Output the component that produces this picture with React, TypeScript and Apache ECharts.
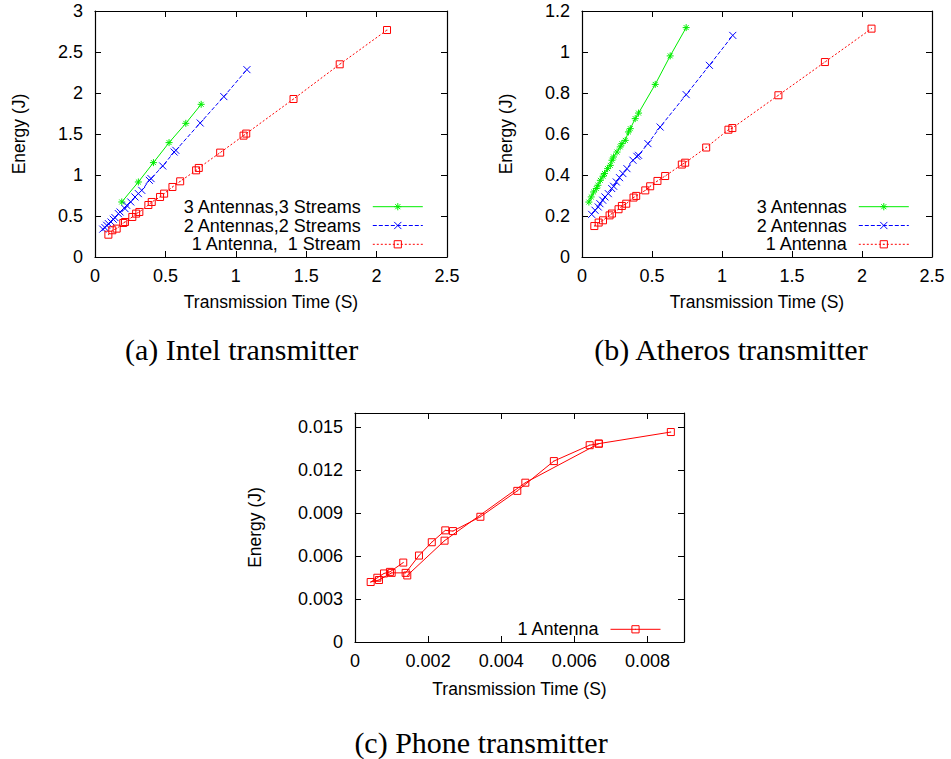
import React, { useEffect, useRef } from 'react';
import * as echarts from 'echarts';

// ---- (a) Intel transmitter ----
const intel3Time = [0.19, 0.308, 0.415, 0.526, 0.645, 0.754];
const intel3Energy = [0.671, 0.915, 1.151, 1.395, 1.63, 1.862];

const intel2Time = [0.055, 0.071, 0.083, 0.095, 0.114, 0.13, 0.142, 0.166, 0.178, 0.213, 0.225, 0.254, 0.284, 0.308, 0.332, 0.386, 0.398, 0.481, 0.562, 0.574, 0.747, 0.915, 1.079];
const intel2Energy = [0.34, 0.358, 0.387, 0.407, 0.427, 0.46, 0.48, 0.529, 0.549, 0.59, 0.63, 0.671, 0.732, 0.773, 0.813, 0.935, 0.956, 1.11, 1.28, 1.301, 1.634, 1.956, 2.285];

const intel1Time = [0.095, 0.123, 0.154, 0.201, 0.213, 0.265, 0.292, 0.315, 0.379, 0.403, 0.462, 0.491, 0.55, 0.605, 0.718, 0.737, 0.889, 1.055, 1.074, 1.41, 1.738, 2.074];
const intel1Energy = [0.272, 0.326, 0.346, 0.415, 0.427, 0.488, 0.529, 0.549, 0.634, 0.671, 0.732, 0.773, 0.854, 0.923, 1.057, 1.086, 1.273, 1.48, 1.505, 1.927, 2.35, 2.768];

// ---- (b) Atheros transmitter ----
const atheros3Time = [0.049, 0.066, 0.083, 0.102, 0.114, 0.131, 0.15, 0.161, 0.183, 0.202, 0.214, 0.225, 0.25, 0.273, 0.285, 0.309, 0.332, 0.345, 0.38, 0.404, 0.523, 0.63, 0.744];
const atheros3Energy = [0.268, 0.293, 0.317, 0.334, 0.35, 0.374, 0.394, 0.407, 0.431, 0.447, 0.472, 0.488, 0.512, 0.537, 0.553, 0.569, 0.61, 0.626, 0.675, 0.702, 0.842, 0.981, 1.119];

const atheros2Time = [0.069, 0.093, 0.116, 0.128, 0.148, 0.164, 0.188, 0.212, 0.226, 0.245, 0.268, 0.292, 0.321, 0.364, 0.392, 0.404, 0.471, 0.558, 0.744, 0.91, 1.077];
const atheros2Energy = [0.208, 0.228, 0.244, 0.26, 0.277, 0.293, 0.309, 0.334, 0.345, 0.366, 0.387, 0.407, 0.431, 0.472, 0.491, 0.496, 0.553, 0.634, 0.792, 0.935, 1.081];

const atheros1Time = [0.088, 0.119, 0.15, 0.197, 0.214, 0.261, 0.285, 0.316, 0.368, 0.387, 0.452, 0.487, 0.539, 0.594, 0.713, 0.737, 0.887, 1.046, 1.074, 1.403, 1.735, 2.068];
const atheros1Energy = [0.151, 0.168, 0.179, 0.203, 0.212, 0.233, 0.249, 0.26, 0.29, 0.298, 0.325, 0.345, 0.371, 0.395, 0.451, 0.46, 0.534, 0.621, 0.629, 0.789, 0.951, 1.114];

// ---- (c) Phone transmitter: one trace that doubles back, drawn as two runs ----
const phoneTimeRunA = [0.00132, 0.000956, 0.000793, 0.000611, 0.000429, 0.000656, 0.001003, 0.001385, 0.00175, 0.0021, 0.00247, 0.00268, 0.00343, 0.00444, 0.00544, 0.00642, 0.00667, 0.00864];
const phoneEnergyRunA = [0.00555, 0.0049, 0.00479, 0.00449, 0.00419, 0.00433, 0.00483, 0.00483, 0.00604, 0.00697, 0.0078, 0.00775, 0.00875, 0.01056, 0.01264, 0.01375, 0.01386, 0.01467];
const phoneTimeRunB = [0.00143, 0.00245, 0.00466, 0.00667];
const phoneEnergyRunB = [0.00465, 0.00708, 0.01113, 0.01386];

// ---- tick values ----
const timeTicksAB = [0, 0.5, 1, 1.5, 2, 2.5];
const intelEnergyTicks = [0, 0.5, 1, 1.5, 2, 2.5, 3];
const atherosEnergyTicks = [0, 0.2, 0.4, 0.6, 0.8, 1, 1.2];
const phoneTimeTicks = [0, 0.002, 0.004, 0.006, 0.008];
const phoneEnergyTicks = [0, 0.003, 0.006, 0.009, 0.012, 0.015];

const SANS = '"Liberation Sans", Arial, Helvetica, sans-serif';
const SERIF = '"Liberation Serif", "Times New Roman", serif';

const GREEN = '#00ee00';
const BLUE = '#0000ff';
const RED = '#ff0000';

const SYM_STAR = 'path://M5,0V10M0,5H10M1.5,1.5L8.5,8.5M8.5,1.5L1.5,8.5';
const SYM_CROSS = 'path://M0,0L10,10M10,0L0,10';
const SYM_BOX = 'path://M0,0H10V10H0ZM4.5,5H5.5';

const zip = (xs: number[], ys: number[]) => xs.map((x, i) => [x, ys[i]]);

const fmtPhone = (v: number) => (v === 0 ? '0' : v.toFixed(3));

const FRAME = { color: '#000', width: 1.2 };

function xAxes(grid: number, min: number, max: number, ticks: number[], name: string, nameGap: number, fmt?: (v: number) => string) {
  const line = { show: true, onZero: false, lineStyle: FRAME };
  const tick = { show: true, inside: true, length: 6, customValues: ticks, lineStyle: { color: '#000', width: 1 } };
  return [
    {
      type: 'value', gridIndex: grid, position: 'bottom', min, max,
      axisLine: line, axisTick: tick, splitLine: { show: false },
      axisLabel: { customValues: ticks, color: '#000', fontFamily: SANS, fontSize: 18, margin: 10, formatter: fmt },
      name, nameLocation: 'middle', nameGap,
      nameTextStyle: { color: '#000', fontFamily: SANS, fontSize: 17.5 },
    },
    {
      type: 'value', gridIndex: grid, position: 'top', min, max,
      axisLine: line, axisTick: tick, splitLine: { show: false },
      axisLabel: { show: false },
    },
  ];
}

function yAxes(grid: number, min: number, max: number, ticks: number[], name: string, nameGap: number, fmt?: (v: number) => string) {
  const line = { show: true, onZero: false, lineStyle: FRAME };
  const tick = { show: true, inside: true, length: 6, customValues: ticks, lineStyle: { color: '#000', width: 1 } };
  return [
    {
      type: 'value', gridIndex: grid, position: 'left', min, max,
      axisLine: line, axisTick: tick, splitLine: { show: false },
      axisLabel: { customValues: ticks, color: '#000', fontFamily: SANS, fontSize: 18, margin: 12, formatter: fmt },
      name, nameLocation: 'middle', nameGap, nameRotate: 90,
      nameTextStyle: { color: '#000', fontFamily: SANS, fontSize: 17.5 },
    },
    {
      type: 'value', gridIndex: grid, position: 'right', min, max,
      axisLine: line, axisTick: tick, splitLine: { show: false },
      axisLabel: { show: false },
    },
  ];
}

function lineSeries(name: string, axis: number, data: number[][], color: string, symbol: string, dash: any, hollow = false) {
  return {
    type: 'line', name, xAxisIndex: axis, yAxisIndex: axis, data,
    symbol, symbolSize: 7,
    lineStyle: { color, width: 1, type: dash },
    itemStyle: { color: hollow ? 'rgba(0,0,0,0)' : color, borderColor: color, borderWidth: 1 },
    emphasis: { disabled: true },
    z: 2,
  };
}

function legend(names: string[], right: number, top: number) {
  return {
    data: names, orient: 'vertical', align: 'right', right, top,
    itemWidth: 50, itemHeight: 9, itemGap: 0.8, padding: 0,
    selectedMode: false,
    formatter: (n: string) => n.split('|')[1],
    itemStyle: { borderWidth: 1 },
    lineStyle: { width: 1 },
    textStyle: { color: '#000', fontFamily: SANS, fontSize: 18, lineHeight: 18, padding: [0, 7, 0, 0] },
  };
}

export default function App() {
  const ref = useRef<HTMLDivElement>(null);

  useEffect(() => {
    if (!ref.current) return;
    const chart = echarts.init(ref.current, undefined, { renderer: 'svg' });

    const A = ['a|3 Antennas,3 Streams', 'a|2 Antennas,2 Streams', 'a|1 Antenna,  1 Stream'];
    const B = ['b|3 Antennas', 'b|2 Antennas', 'b|1 Antenna'];
    const C = 'c|1 Antenna';

    chart.setOption({
      animation: false,
      backgroundColor: '#fff',
      grid: [
        { left: 95, top: 11, width: 352, height: 246 },
        { left: 582, top: 11, width: 350, height: 246 },
        { left: 355, top: 413, width: 329, height: 229 },
      ],
      xAxis: [
        ...xAxes(0, 0, 2.5, timeTicksAB, 'Transmission Time (S)', 36),
        ...xAxes(1, 0, 2.5, timeTicksAB, 'Transmission Time (S)', 36),
        ...xAxes(2, 0, 0.009, phoneTimeTicks, 'Transmission Time (S)', 38, fmtPhone),
      ],
      yAxis: [
        ...yAxes(0, 0, 3, intelEnergyTicks, 'Energy (J)', 67),
        ...yAxes(1, 0, 1.2, atherosEnergyTicks, 'Energy (J)', 67),
        ...yAxes(2, 0, 0.016, phoneEnergyTicks, 'Energy (J)', 91, fmtPhone),
      ],
      legend: [
        legend(A, 951 - 423.3, 197.7),
        legend(B, 951 - 909.3, 197.7),
        legend([C], 951 - 661, 620.3),
      ],
      series: [
        lineSeries(A[0], 0, zip(intel3Time, intel3Energy), GREEN, SYM_STAR, 'solid'),
        lineSeries(A[1], 0, zip(intel2Time, intel2Energy), BLUE, SYM_CROSS, [4, 2]),
        lineSeries(A[2], 0, zip(intel1Time, intel1Energy), RED, SYM_BOX, [2, 2], true),
        lineSeries(B[0], 2, zip(atheros3Time, atheros3Energy), GREEN, SYM_STAR, 'solid'),
        lineSeries(B[1], 2, zip(atheros2Time, atheros2Energy), BLUE, SYM_CROSS, [4, 2]),
        lineSeries(B[2], 2, zip(atheros1Time, atheros1Energy), RED, SYM_BOX, [2, 2], true),
        lineSeries(C, 4, zip(phoneTimeRunA, phoneEnergyRunA), RED, SYM_BOX, 'solid', true),
        lineSeries(C, 4, zip(phoneTimeRunB, phoneEnergyRunB), RED, SYM_BOX, 'solid', true),
      ],
      graphic: [
        { type: 'text', x: 241.5, y: 349, style: { text: '(a) Intel transmitter', fontFamily: SERIF, fontSize: 30, fill: '#000', align: 'center', verticalAlign: 'middle' } },
        { type: 'text', x: 731, y: 349, style: { text: '(b) Atheros transmitter', fontFamily: SERIF, fontSize: 30, fill: '#000', align: 'center', verticalAlign: 'middle' } },
        { type: 'text', x: 481, y: 742, style: { text: '(c) Phone transmitter', fontFamily: SERIF, fontSize: 30, fill: '#000', align: 'center', verticalAlign: 'middle' } },
      ],
    });

    return () => chart.dispose();
  }, []);

  return (
    <div
      ref={ref}
      style={{ position: 'absolute', left: 0, top: 0, width: 951, height: 759, background: '#fff' }}
    />
  );
}
